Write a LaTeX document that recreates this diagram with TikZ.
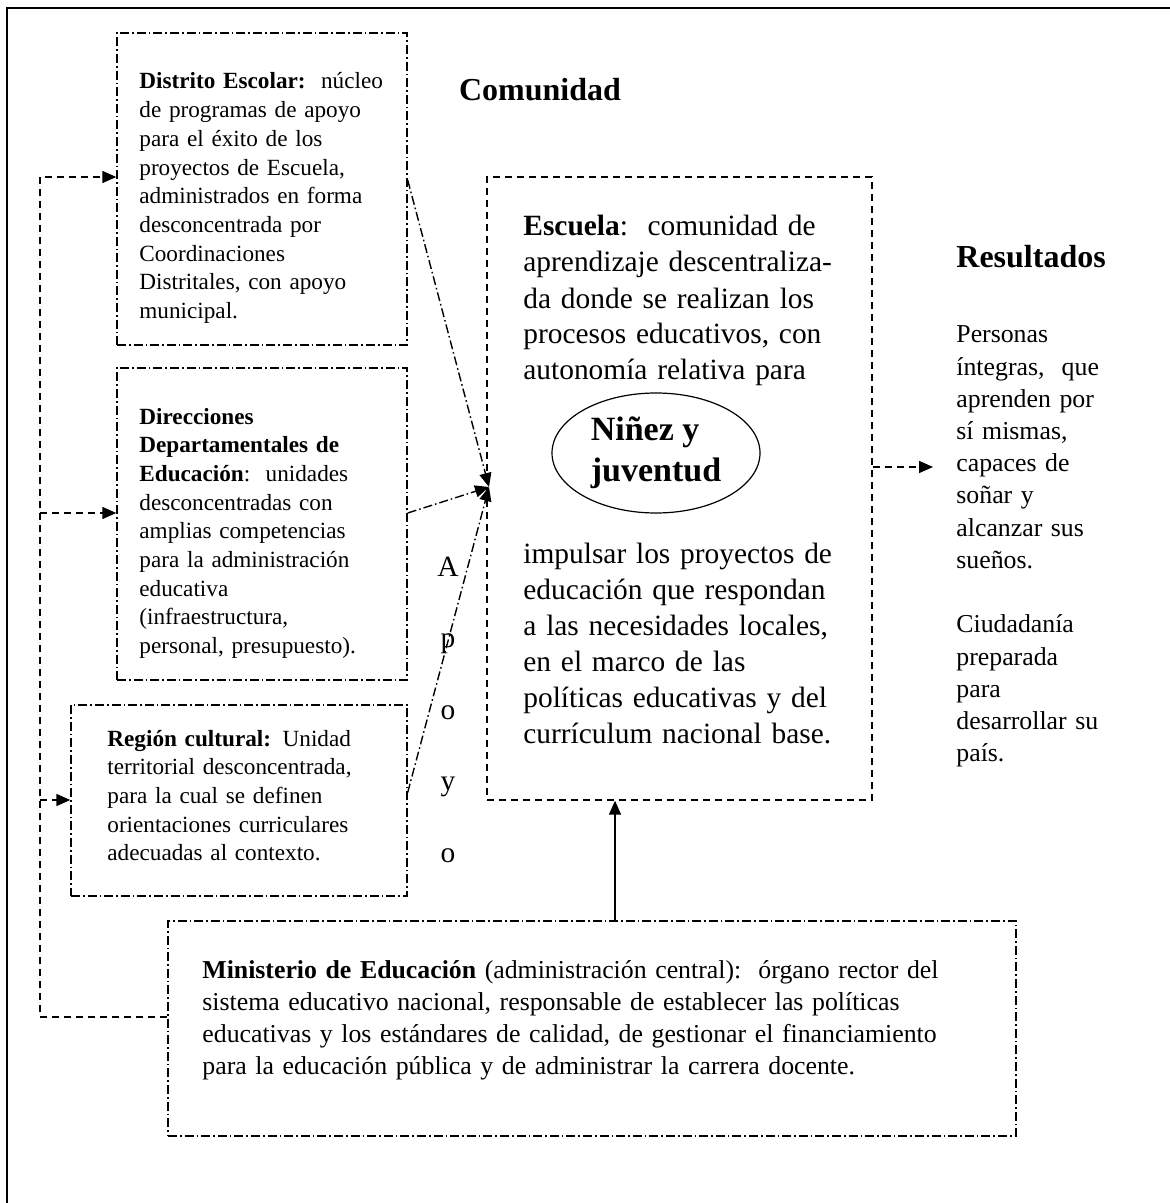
\documentclass[tikz,border=0pt]{standalone}
\usepackage{fontspec}
\setmainfont{Liberation Serif}
\usetikzlibrary{shapes.geometric, arrows.meta}
\tikzstyle{unitbox} = [rectangle, draw=black, line width=0.7pt, dash pattern=on 4.5pt off 1.5pt on 0.8pt off 1.5pt, inner sep=0pt]
\tikzstyle{schoolbox} = [rectangle, draw=black, line width=0.7pt, dash pattern=on 3.5pt off 2.5pt, inner sep=0pt]
\tikzstyle{smalltext} = [anchor=base west, align=left, inner sep=0pt, text width=165pt, font=\fontsize{11.6}{14.35}\selectfont]
\tikzstyle{bigtext} = [anchor=base west, align=left, inner sep=0pt, text width=190pt, font=\fontsize{14.7}{18}\selectfont]
\tikzstyle{midtext} = [anchor=base west, align=left, inner sep=0pt, text width=420pt, font=\fontsize{12.9}{16.15}\selectfont]
\tikzstyle{headtext} = [inner sep=0pt, font=\fontsize{16}{18}\selectfont\bfseries]
\tikzstyle{support} = [line width=0.7pt, dash pattern=on 4.5pt off 1.5pt on 0.8pt off 1.5pt, -{Triangle[length=7pt,width=6pt]}]
\tikzstyle{feedback} = [line width=0.7pt, dash pattern=on 3.5pt off 2.5pt, -{Triangle[length=7pt,width=6pt]}]
\tikzstyle{arrow} = [line width=0.8pt, -{Triangle[length=7pt,width=6pt]}]

\begin{document}
\begin{tikzpicture}[x=0.5pt, y=-0.5pt]
  \useasboundingbox (0,0) rectangle (1170,1203);
  \draw [line width=1pt] (7,1203) -- (7,8) -- (1170,8);
  % boxes
  \node (distrito) [unitbox, minimum width=145pt, minimum height=156pt] at (262,189) {};
  \node (direcciones) [unitbox, minimum width=145pt, minimum height=156pt] at (262,524) {};
  \node (region) [unitbox, minimum width=168pt, minimum height=95.5pt] at (239,800.5) {};
  \node (escuela) [schoolbox, minimum width=192.5pt, minimum height=311.5pt] at (679.5,488.5) {};
  \node (ministerio) [unitbox, minimum width=424pt, minimum height=107.5pt] at (592,1028.5) {};
  \node (ninez) [ellipse, draw, line width=0.6pt, inner sep=0pt, minimum width=104pt, minimum height=60pt, align=left, font=\fontsize{17}{20.5}\selectfont\bfseries] at (656,453) {Niñez y\\juventud};
  % texts
  \node (distritotxt) [smalltext] at (139,89) {\textbf{Distrito Escolar:}\ \ núcleo\\de programas de apoyo\\para el éxito de los\\proyectos de Escuela,\\administrados en forma\\desconcentrada por\\Coordinaciones\\Distritales, con apoyo\\municipal.};
  \node (direccionestxt) [smalltext] at (139,424) {\textbf{Direcciones}\\\textbf{Departamentales de}\\\textbf{Educación}:\ \ unidades\\desconcentradas con\\amplias competencias\\para la administración\\educativa\\(infraestructura,\\personal, presupuesto).};
  \node (regiontxt) [smalltext] at (107,746) {\textbf{Región cultural:} Unidad\\territorial desconcentrada,\\para la cual se definen\\orientaciones curriculares\\adecuadas al contexto.};
  \node (escuelatxt) [bigtext] at (523,236) {\textbf{Escuela}:\ \ comunidad de\\aprendizaje descentraliza-\\da donde se realizan los\\procesos educativos, con\\autonomía relativa para};
  \node (escuelatxt2) [bigtext] at (523,563) {impulsar los proyectos de\\educación que respondan\\a las necesidades locales,\\en el marco de las\\políticas educativas y del\\currículum nacional base.};
  \node (ministeriotxt) [midtext] at (202,978) {\textbf{Ministerio de Educación} (administración central):\ \ órgano rector del\\sistema educativo nacional, responsable de establecer las políticas\\educativas y los estándares de calidad, de gestionar el financiamiento\\para la educación pública y de administrar la carrera docente.};
  \node (comunidad) [headtext] at (540,90) {Comunidad};
  \node (resultados) [headtext, anchor=west] at (956,257) {Resultados};
  \node (personas) [midtext, text width=110pt, font=\fontsize{12.9}{16.1}\selectfont] at (956,343) {Personas\\íntegras,\ \ que\\aprenden por\\sí mismas,\\capaces de\\soñar y\\alcanzar sus\\sueños.\\[16.1pt]Ciudadanía\\preparada\\para\\desarrollar su\\país.};
  \node (apoyo) [align=center, inner sep=0pt, font=\fontsize{14.7}{35.75}\selectfont] at (448,709.5) {A\\p\\o\\y\\o};
  % connectors
  \coordinate (hub) at (489,487);
  \draw [support] ([yshift=4.5pt]distrito.east) -- (hub);
  \draw [support] ([yshift=5.5pt]direcciones.east) -- (hub);
  \draw [support] ([yshift=4pt]region.east) -- (hub);
  \coordinate (result) at (933,467);
  \draw [feedback] (escuela.east |- result) -- (result);
  \draw [arrow] ([xshift=11.5pt]ministerio.north) -- ([xshift=11.5pt]ministerio.north |- escuela.south);
  \coordinate (loop) at (40,177);
  \draw [feedback] ([yshift=5.75pt]ministerio.west) -| (loop) -- (loop -| distrito.west);
  \coordinate (loopmid) at (40,513);
  \draw [feedback] (loopmid) -- (loopmid -| direcciones.west);
  \coordinate (looplow) at (40,800);
  \draw [feedback] (looplow) -- (looplow -| region.west);
\end{tikzpicture}
\end{document}
